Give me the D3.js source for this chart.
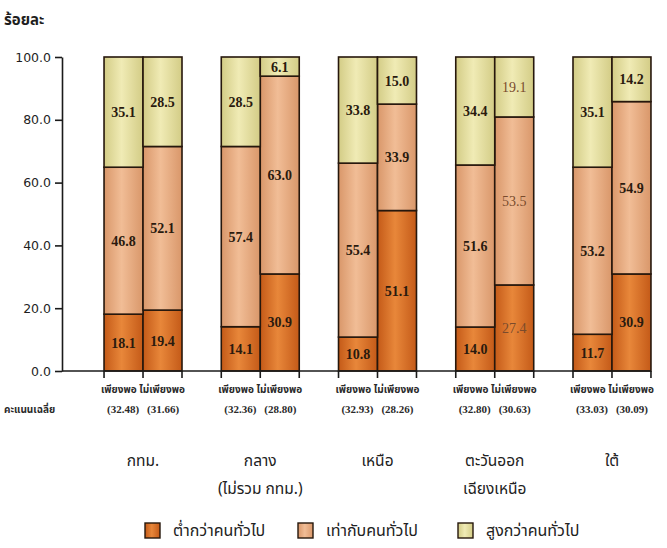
<!DOCTYPE html>
<html>
<head>
<meta charset="utf-8">
<script src="https://cdn.jsdelivr.net/npm/d3@7/dist/d3.min.js"></script>
<style>
  html, body { margin: 0; padding: 0; background: #ffffff; }
  svg { display: block; }
</style>
</head>
<body>
<svg id="chart" width="667" height="548"></svg>
<script>
// Regions (x groups) and the two sufficiency groups inside each region
const regions = ["กทม.", "กลาง\n(ไม่รวม กทม.)", "เหนือ", "ตะวันออก\nเฉียงเหนือ", "ใต้"];
const sufficiency = ["เพียงพอ", "ไม่เพียงพอ"];
const levels = ["ต่ำกว่าคนทั่วไป", "เท่ากับคนทั่วไป", "สูงกว่าคนทั่วไป"];

// Percent shares, ordered region by region: [เพียงพอ, ไม่เพียงพอ] for each
const below = [18.1, 19.4, 14.1, 30.9, 10.8, 51.1, 14.0, 27.4, 11.7, 30.9];
const equal = [46.8, 52.1, 57.4, 63.0, 55.4, 33.9, 51.6, 53.5, 53.2, 54.9];
const above = [35.1, 28.5, 28.5, 6.1, 33.8, 15.0, 34.4, 19.1, 35.1, 14.2];

// Mean scores under each bar
const scores = ["32.48", "31.66", "32.36", "28.80", "32.93", "28.26", "32.80", "30.63", "33.03", "30.09"];

const yTicks = [0, 20, 40, 60, 80, 100];
const yTitle = "ร้อยละ";
const scoreTitle = "คะแนนเฉลี่ย";

// ---- build rows for the stack ----
const rows = [];
regions.forEach((r, i) => {
  sufficiency.forEach((s, j) => {
    const k = i * 2 + j;
    rows.push({ region: r, suff: s, idx: k, [levels[0]]: below[k], [levels[1]]: equal[k], [levels[2]]: above[k] });
  });
});
const stacked = d3.stack().keys(levels)(rows);

const svg = d3.select("#chart");
const thaiSans = "'Noto Sans Thai', 'Noto Sans Thai UI', 'Loma', 'Garuda', 'Tlwg Typist', 'DejaVu Sans', sans-serif";
const serif = "'Liberation Serif', 'Times New Roman', 'DejaVu Serif', serif";

// ---- scales ----
const x = d3.scaleBand().domain(regions).range([84.4, 670.6]).paddingInner(0.335).paddingOuter(0.1675);
const xs = d3.scaleBand().domain(sufficiency).range([0, x.bandwidth()]).padding(0);
const y = d3.scaleLinear().domain([0, 100]).range([371, 57]);

// cylindrical shading for each fill
const edgeShade = { [levels[0]]: "#c45a18", [levels[1]]: "#d9976a", [levels[2]]: "#d3cc86" };
const midShade = { [levels[0]]: "#e8873a", [levels[1]]: "#f1bd96", [levels[2]]: "#f0ebb5" };
const defs = svg.append("defs");
levels.forEach((lv, i) => {
  const g = defs.append("linearGradient").attr("id", "grad" + i).attr("x1", "0").attr("x2", "1").attr("y1", "0").attr("y2", "0");
  g.append("stop").attr("offset", "0%").attr("stop-color", edgeShade[lv]);
  g.append("stop").attr("offset", "45%").attr("stop-color", midShade[lv]);
  g.append("stop").attr("offset", "100%").attr("stop-color", edgeShade[lv]);
});

// ---- y axis ----
const yAxis = d3.axisLeft(y).tickValues(yTicks).tickFormat(d3.format(".1f")).tickSize(7).tickSizeOuter(0);
const yg = svg.append("g").attr("transform", "translate(62,0)").call(yAxis);
yg.select(".domain").attr("stroke", "#1a1a1a").attr("stroke-width", 1.6);
yg.selectAll(".tick line").attr("stroke", "#1a1a1a").attr("stroke-width", 1.6);
yg.selectAll(".tick text").attr("x", -11).attr("font-family", "'DejaVu Sans', Verdana, sans-serif")
  .attr("font-size", 12.5).attr("fill", "#1e1e1e");

svg.append("text").attr("x", 4).attr("y", 25).text(yTitle)
  .attr("font-family", thaiSans).attr("font-weight", "bold").attr("font-size", 15).attr("fill", "#1e1e1e");

// ---- bars ----
const layers = svg.append("g").selectAll("g").data(stacked).join("g")
  .attr("fill", (d, i) => "url(#grad" + i + ")");

layers.selectAll("rect").data(d => d.map(p => ({ key: d.key, p }))).join("rect")
  .attr("x", d => x(d.p.data.region) + xs(d.p.data.suff))
  .attr("width", xs.bandwidth())
  .attr("y", d => y(d.p[1]))
  .attr("height", d => y(d.p[0]) - y(d.p[1]))
  .attr("stroke", "#26170c").attr("stroke-width", 1.6);

// value labels
const faintBar = "ตะวันออก\nเฉียงเหนือ|ไม่เพียงพอ";
const labels = svg.append("g");
stacked.forEach(layer => {
  layer.forEach(p => {
    const faint = (p.data.region + "|" + p.data.suff) === faintBar;
    labels.append("text")
      .attr("x", x(p.data.region) + xs(p.data.suff) + xs.bandwidth() / 2)
      .attr("y", y((p[0] + p[1]) / 2) + 5)
      .attr("text-anchor", "middle")
      .attr("font-family", serif)
      .attr("font-weight", faint ? "normal" : "bold")
      .attr("font-size", 14)
      .attr("fill", faint ? "#7a4b2c" : "#2a1a0e")
      .text(d3.format(".1f")(p[1] - p[0]));
  });
});

// ---- x axis: baseline and ticks at bar edges ----
const xAxisG = svg.append("g");
const lastEdge = x(regions[regions.length - 1]) + x.bandwidth();
xAxisG.append("line").attr("x1", 62).attr("x2", lastEdge).attr("y1", y(0)).attr("y2", y(0))
  .attr("stroke", "#1a1a1a").attr("stroke-width", 1.6);
regions.forEach(r => {
  [0, xs.bandwidth(), x.bandwidth()].forEach(off => {
    xAxisG.append("line").attr("x1", x(r) + off).attr("x2", x(r) + off)
      .attr("y1", y(0)).attr("y2", y(0) + 7).attr("stroke", "#1a1a1a").attr("stroke-width", 1.6);
  });
});

// sufficiency names and mean scores
const under = svg.append("g");
regions.forEach((r, i) => {
  const cx = x(r) + x.bandwidth() / 2;
  under.append("text").attr("x", cx).attr("y", 393).attr("text-anchor", "middle")
    .attr("font-family", thaiSans).attr("font-weight", "bold").attr("font-size", 10).attr("fill", "#2a2a2a")
    .text(sufficiency.join(" "));
  sufficiency.forEach((s, j) => {
    under.append("text").attr("x", cx + (j === 0 ? -20 : 20)).attr("y", 413).attr("text-anchor", "middle")
      .attr("font-family", serif).attr("font-weight", "bold").attr("font-size", 11).attr("fill", "#2a2a2a")
      .text("(" + scores[i * 2 + j] + ")");
  });
});
under.append("text").attr("x", 4).attr("y", 413)
  .attr("font-family", thaiSans).attr("font-weight", "bold").attr("font-size", 10).attr("fill", "#2a2a2a")
  .text(scoreTitle);

// region names
regions.forEach(r => {
  const t = svg.append("text").attr("x", x(r) + x.bandwidth() / 2).attr("y", 466).attr("text-anchor", "middle")
    .attr("font-family", thaiSans).attr("font-size", 15.5).attr("fill", "#222");
  r.split("\n").forEach((line, k) => {
    t.append("tspan").attr("x", x(r) + x.bandwidth() / 2).attr("dy", k === 0 ? 0 : 28).text(line);
  });
});

// ---- legend ----
const legendX = [145, 298, 458];
const legend = svg.append("g");
levels.forEach((lv, i) => {
  legend.append("rect").attr("x", legendX[i]).attr("y", 523).attr("width", 15).attr("height", 15)
    .attr("fill", "url(#grad" + i + ")").attr("stroke", "#26170c").attr("stroke-width", 1.4);
  legend.append("text").attr("x", legendX[i] + 28).attr("y", 536)
    .attr("font-family", thaiSans).attr("font-size", 16).attr("fill", "#222").text(lv);
});
</script>
</body>
</html>
